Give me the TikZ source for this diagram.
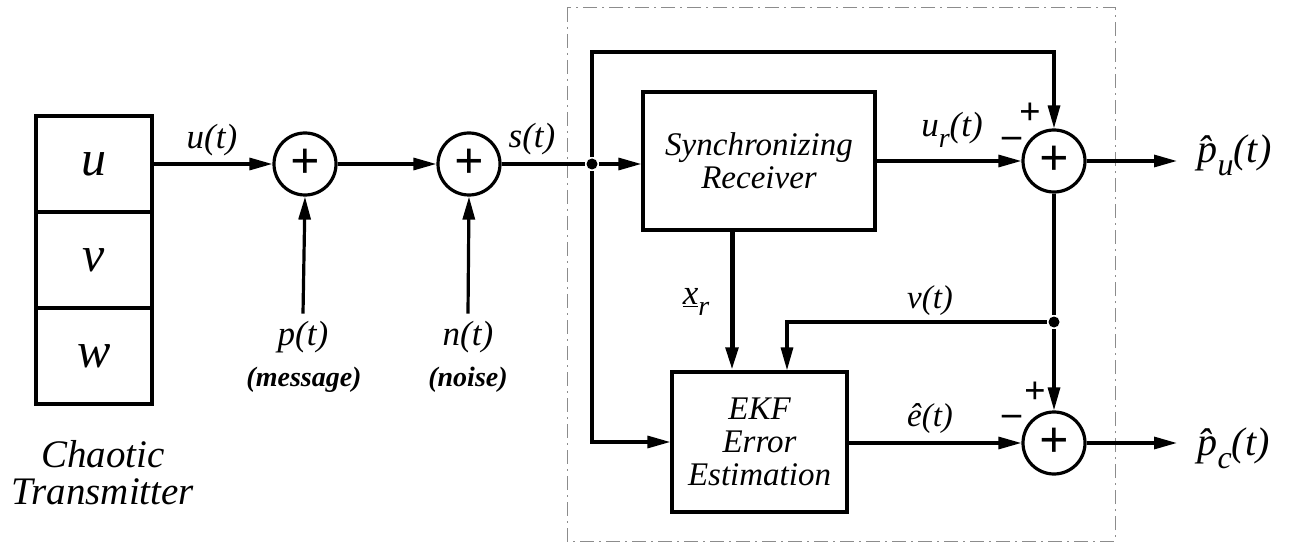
\documentclass[tikz,border=0pt]{standalone}
\usepackage{fontspec}
\usepackage{graphicx}
\setmainfont{Liberation Serif}
\usetikzlibrary{arrows.meta,positioning}
\newcommand{\fs}[1]{\fontsize{#1}{#1}\selectfont}
\newcommand{\lsub}[1]{\raisebox{-0.32em}{\scalebox{0.8}{#1}}}

\begin{document}
\begin{tikzpicture}[x=1pt,y=-1pt,line width=3.2pt,>={Triangle[length=23pt,width=12pt]},
every node/.style={font=\itshape},
cell/.style={draw,minimum width=116pt,minimum height=96pt,font=\itshape\fs{50}},
sum/.style={draw,circle,minimum size=62pt,inner sep=0pt,font=\bfseries\fs{52}},
block/.style={draw,align=center,inner sep=0pt,font=\itshape\fs{33}},
lbl/.style={font=\itshape\fs{35},inner sep=0pt},
note/.style={font=\bfseries\itshape\fs{28},inner sep=0pt},
sign/.style={font=\bfseries\fs{38},inner sep=0pt},
dot/.style={circle,fill,inner sep=0pt,minimum size=11pt}]
\useasboundingbox (0,0) rectangle (1291,548);
% receiver frame
\draw[black!45,line width=1pt,dash pattern=on 14pt off 5pt on 2pt off 5pt] (567,8) rectangle (1115,541);
% transmitter
\node[cell] (u) at (94,164) {u};
\node[cell] (v) at (94,260) {v};
\node[cell] (w) at (94,356) {w};
\node[font=\itshape\fs{39},align=center] (tx) at (103,473) {Chaotic\\[-2pt]Transmitter};
% channel
\node[sum] (s1) at (305,164) {+};
\node[sum] (s2) at (469,164) {+};
\node[lbl] (pt) at (303,337) {p(t)};
\node[note] (msg) at (304,380) {(message)};
\node[lbl] (nt) at (468,337) {n(t)};
\node[note] (noise) at (468,380) {(noise)};
\node[dot] (j1) at (592,164) {};
% receiver
\node[block,minimum width=232pt,minimum height=138pt] (sync) at (759,161) {Synchronizing\\[0pt]Receiver};
\node[block,minimum width=175pt,minimum height=140pt] (ekf) at (759.5,442) {EKF\\[0pt]Error\\[0pt]Estimation};
\node[sum] (s3) at (1054,161) {+};
\node[sum] (s4) at (1054,443) {+};
\node[dot] (j2) at (1054,322) {};
\coordinate (top) at (592,52);
\coordinate (pu) at (1177,161);
\coordinate (pc) at (1177,443);
\node[font=\itshape\fs{40},anchor=west,inner sep=0pt] (pul) at (1196,155) {\^{p}\lsub{u}(t)};
\node[font=\itshape\fs{40},anchor=west,inner sep=0pt] (pcl) at (1196,448) {\^{p}\lsub{c}(t)};
% labels
\node[lbl] at (212,140) {u(t)};
\node[lbl] at (532,139) {s(t)};
\node[lbl] at (952,130) {u\lsub{r}(t)};
\node[lbl] at (696,302) {\underline{x}\lsub{r}};
\node[lbl,font=\itshape\fs{33}] at (930,301) {v(t)};
\node[lbl,font=\itshape\fs{33}] at (930,419) {\^{e}(t)};
\node[sign] at (1030,114) {+};
\node[sign] at (1012,142) {\textendash};
\node[sign] at (1035,393) {+};
\node[sign] at (1012,420) {\textendash};
% connectors
\draw[->] (u.east) -- (s1.west);
\draw[->] (s1.east) -- (s2.west);
\draw[->] (pt.north) ++(0,-6) -- (s1.south);
\draw[->] (nt.north) ++(0,-6) -- (s2.south);
\draw (s2.east) -- (j1);
\draw[->] (j1) -- (j1 -| sync.west);
\draw[->] (j1) -- (top) -| (s3.north);
\draw[->] (j1) |- (ekf.west);
\draw[->] (sync.east |- s3) -- (s3.west);
\draw[->,line width=5pt] ([xshift=-27pt]sync.south) -- ([xshift=-27.5pt]ekf.north);
\draw (s3.south) -- (j2);
\draw[->] (j2) -- (s4.north);
\draw[->] (j2) -| ([xshift=27.5pt]ekf.north);
\draw[->] (ekf.east |- s4) -- (s4.west);
\draw[->] (s3.east) -- (pu);
\draw[->] (s4.east) -- (pc);
\end{tikzpicture}
\end{document}
